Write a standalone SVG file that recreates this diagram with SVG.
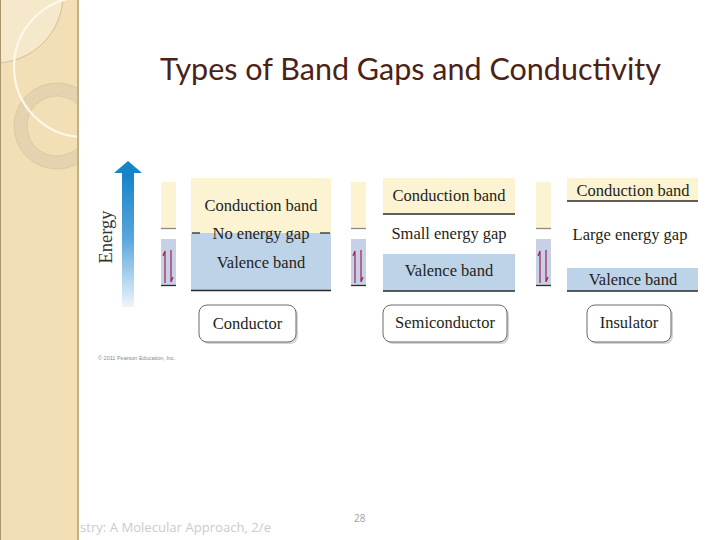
<svg xmlns="http://www.w3.org/2000/svg" width="720" height="540" viewBox="0 0 720 540">
<defs>
<style>
.lbl{font-family:"Liberation Serif","DejaVu Serif",serif;font-size:16.5px;fill:#231f20;text-anchor:middle}
.cb{fill:#fcf3d3}
.vb{fill:#bdd3e8}
.sv{fill:#c6d1e7}
.ln{stroke:#2a2a2a;stroke-width:1.3}
.gl{stroke:#8a8a80;stroke-width:1.3}
.box{fill:#fff;stroke:#6b6b6b;stroke-width:1}
.shd{fill:#d4d4d4}
.el{stroke:#a0204e;stroke-width:1.2;fill:none}
</style>
<linearGradient id="eg" x1="0" y1="0" x2="0" y2="1">
<stop offset="0" stop-color="#1282c8"/>
<stop offset="0.5" stop-color="#5aa6dc"/>
<stop offset="1" stop-color="#eef5fc"/>
</linearGradient>
<clipPath id="sbc"><rect x="0" y="0" width="78" height="540"/></clipPath>
</defs>
<rect width="720" height="540" fill="#fff"/>
<g id="sidebar">
<rect x="0" y="0" width="79" height="540" fill="#f2dfb6"/>
<g clip-path="url(#sbc)">
<circle cx="-5" cy="-5" r="68" fill="#f6e9cb" stroke="#c9b48c" stroke-width="0.8"/>
<circle cx="57" cy="126" r="36.5" fill="none" stroke="#e4d3ae" stroke-width="13"/>
<circle cx="57" cy="126" r="43" fill="none" stroke="#d2bf95" stroke-width="0.6"/>
<circle cx="57" cy="126" r="30" fill="none" stroke="#d2bf95" stroke-width="0.6"/>
<circle cx="84" cy="67" r="70" fill="none" stroke="#fdf8ea" stroke-width="2.2"/>
</g>
<line x1="0.5" y1="0" x2="0.5" y2="540" stroke="#a8956d" stroke-width="1"/>
<line x1="78" y1="0" x2="78" y2="540" stroke="#c4ae83" stroke-width="2"/>
</g>
<text id="title" x="160" y="80" textLength="501" lengthAdjust="spacingAndGlyphs" style="font-family:Lato,'Open Sans',sans-serif;font-size:30px;fill:#4b2316">Types of Band Gaps and Conductivity</text>
<g id="energy-axis">
<rect x="122" y="171" width="12" height="136" fill="url(#eg)"/>
<polygon points="128,161 142,173 114,173" fill="#1584c8"/>
<text x="0" y="0" transform="translate(112,237) rotate(-90)" style="font-family:'Liberation Serif',serif;font-size:18.5px;fill:#333;text-anchor:middle">Energy</text>
</g>
<g id="conductor">
<g id="conductor-bar">
<rect x="161" y="182" width="15" height="46" class="cb"/>
<line x1="161" y1="228.5" x2="176" y2="228.5" class="gl"/>
<rect x="161" y="239" width="15" height="46" class="sv"/>
<line x1="161" y1="285.5" x2="176" y2="285.5" class="ln"/>
<path d="M165 283 V251 M165 251 L163 256" class="el"/>
<path d="M171 250 V282 M171 282 L173 277" class="el"/>
</g>
<rect x="191" y="178" width="140" height="55" class="cb"/>
<rect x="191" y="233" width="140" height="57" class="vb"/>
<line x1="191" y1="290.5" x2="331" y2="290.5" class="ln"/>
<line x1="192" y1="233" x2="200" y2="233" class="ln"/>
<line x1="320" y1="233" x2="330" y2="233" class="ln"/>
<text x="261" y="211" class="lbl">Conduction band</text>
<text x="261" y="239" class="lbl">No energy gap</text>
<text x="261" y="268" class="lbl">Valence band</text>
<rect x="201" y="307" width="97" height="37" rx="8" class="shd"/>
<rect x="199" y="305" width="97" height="37" rx="8" class="box"/>
<text x="247.5" y="329" class="lbl">Conductor</text>
</g>
<g id="semiconductor">
<g id="semiconductor-bar">
<rect x="351" y="182" width="15" height="46" class="cb"/>
<line x1="351" y1="228.5" x2="366" y2="228.5" class="gl"/>
<rect x="351" y="239" width="15" height="46" class="sv"/>
<line x1="351" y1="285.5" x2="366" y2="285.5" class="ln"/>
<path d="M355 283 V251 M355 251 L353 256" class="el"/>
<path d="M361 250 V282 M361 282 L363 277" class="el"/>
</g>
<rect x="383" y="178" width="132" height="36" class="cb"/>
<line x1="383" y1="214" x2="515" y2="214" class="ln"/>
<rect x="383" y="254" width="132" height="37" class="vb"/>
<line x1="383" y1="291" x2="515" y2="291" class="ln"/>
<text x="449" y="201" class="lbl">Conduction band</text>
<text x="449" y="239" class="lbl">Small energy gap</text>
<text x="449" y="276" class="lbl">Valence band</text>
<rect x="385" y="307" width="124" height="37" rx="8" class="shd"/>
<rect x="383" y="305" width="124" height="37" rx="8" class="box"/>
<text x="445" y="328" class="lbl">Semiconductor</text>
</g>
<g id="insulator">
<g id="insulator-bar">
<rect x="536" y="182" width="15" height="46" class="cb"/>
<line x1="536" y1="228.5" x2="551" y2="228.5" class="gl"/>
<rect x="536" y="239" width="15" height="46" class="sv"/>
<line x1="536" y1="285.5" x2="551" y2="285.5" class="ln"/>
<path d="M540 283 V251 M540 251 L538 256" class="el"/>
<path d="M546 250 V282 M546 282 L548 277" class="el"/>
</g>
<rect x="567" y="178" width="131" height="23" class="cb"/>
<line x1="567" y1="201" x2="698" y2="201" class="ln"/>
<rect x="567" y="268" width="131" height="23" class="vb"/>
<line x1="567" y1="291" x2="698" y2="291" class="ln"/>
<text x="633" y="196" class="lbl">Conduction band</text>
<text x="630" y="240" class="lbl">Large energy gap</text>
<text x="633" y="285" class="lbl">Valence band</text>
<rect x="589" y="307" width="84" height="37" rx="8" class="shd"/>
<rect x="587" y="305" width="84" height="37" rx="8" class="box"/>
<text x="629" y="328" class="lbl">Insulator</text>
</g>
<text x="98" y="360" style="font-family:'Liberation Sans',sans-serif;font-size:5.5px;fill:#8a8a8a">© 2011 Pearson Education, Inc.</text>
<text x="80" y="532" textLength="191" lengthAdjust="spacingAndGlyphs" style="font-family:'Open Sans','Liberation Sans',sans-serif;font-size:13.5px;fill:#cbcbcb">stry: A Molecular Approach, 2/e</text>
<text x="354" y="522" style="font-family:'Open Sans','Liberation Sans',sans-serif;font-size:10px;fill:#a0a0a0">28</text>
</svg>
